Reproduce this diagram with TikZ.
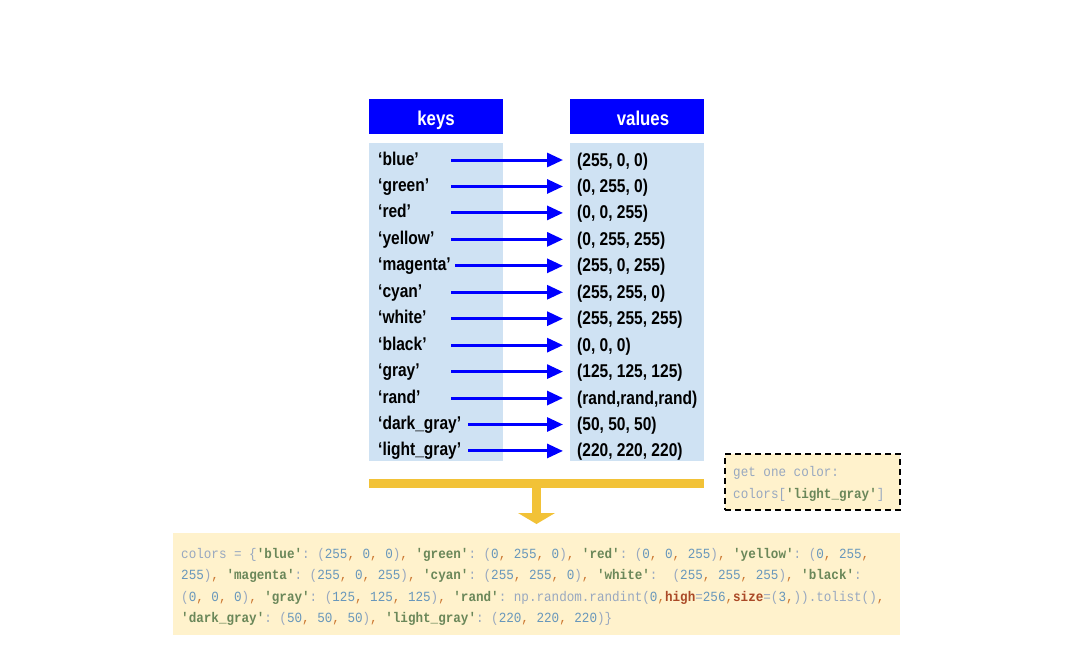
\documentclass[tikz,border=0pt]{standalone}
\usepackage{fontspec}
\setmainfont{Liberation Sans}
\setmonofont{Liberation Mono}[FakeStretch=0.9]
\newfontfamily\labfont{Liberation Sans}[FakeStretch=0.84]
\usetikzlibrary{arrows.meta}
\definecolor{hdr}{RGB}{0,0,255}
\definecolor{panel}{RGB}{207,226,243}
\definecolor{cream}{RGB}{255,242,204}
\definecolor{gold}{RGB}{242,194,55}
\definecolor{cdef}{RGB}{152,168,192}
\definecolor{cnum}{RGB}{104,151,187}
\definecolor{ccomma}{RGB}{204,120,50}
\definecolor{cstrc}{RGB}{106,135,89}
\definecolor{ckwc}{RGB}{170,73,38}
\newcommand\cnm[1]{\textcolor{cnum}{#1}}
\newcommand\ccm{\textcolor{ccomma}{,}}
\newcommand\cst[1]{\textcolor{cstrc}{\textbf{'#1'}}}
\newcommand\ckw[1]{\textcolor{ckwc}{\textbf{#1}}}
\newcommand\tup[3]{(\cnm{#1}\ccm\ \cnm{#2}\ccm\ \cnm{#3})}
\begin{document}
\begin{tikzpicture}[x=1pt,y=-1pt,
  hdrbox/.style={fill=hdr, inner sep=0pt, minimum width=134pt, minimum height=35pt},
  hdrtext/.style={text=white, inner sep=0pt, text height=13pt, text depth=0pt,
    font=\labfont\bfseries\fontsize{20}{22}\selectfont},
  keylab/.style={anchor=west, inner sep=0pt, text height=12pt, text depth=4pt,
    font=\labfont\bfseries\fontsize{18.5}{20}\selectfont},
  vallab/.style={keylab},
  arr/.style={draw=hdr, line width=3pt, shorten >=14pt, -{Triangle[length=16pt,width=14pt]}},
  codeline/.style={anchor=base west, inner sep=0pt, text=cdef,
    font=\ttfamily\fontsize{14}{21.7}\selectfont},
  codebg/.style={fill=cream, inner sep=0pt}]
\useasboundingbox (0,0) rectangle (1091,648);
% headers
\node[hdrbox] (hk) at (436,116.5) {};
\node[hdrbox] (hv) at (637,116.5) {};
\node[hdrtext] (hkt) at (436,118.5) {keys};
\node[hdrtext] (hvt) at (643,118.5) {values};
% panels
\fill[panel] (369,143) rectangle (503,461);
\fill[panel] (570,143) rectangle (704,461);
% rows
\foreach \i/\k/\v/\s in {
 1/blue/{(255, 0, 0)}/451,
 2/green/{(0, 255, 0)}/451,
 3/red/{(0, 0, 255)}/451,
 4/yellow/{(0, 255, 255)}/451,
 5/magenta/{(255, 0, 255)}/455,
 6/cyan/{(255, 255, 0)}/451,
 7/white/{(255, 255, 255)}/451,
 8/black/{(0, 0, 0)}/451,
 9/gray/{(125, 125, 125)}/451,
 10/rand/{(rand,rand,rand)}/451,
 11/dark\_gray/{(50, 50, 50)}/468,
 12/light\_gray/{(220, 220, 220)}/468}{
  \pgfmathsetmacro\yy{160+26.45*(\i-1)}
  \node[keylab] (k\i) at (378,\yy+1) {‘\k’};
  \node[vallab] (v\i) at (577,\yy+2) {\v};
  \coordinate (a\i) at (\s,\yy);
  \coordinate (b\i) at (577,\yy);
  \draw[arr] (a\i) -- (b\i);
}
% yellow bar and arrow
\fill[gold] (369,479) rectangle (704,488);
\fill[gold] (532,488) rectangle (541,513);
\fill[gold] (518,513) -- (555,513) -- (536.5,524) -- cycle;
% tip box
\node[draw=black, dashed, dash pattern=on 6pt off 4pt, line width=1.6pt, fill=cream,
  minimum width=175pt, minimum height=56pt, inner sep=0pt] (tipbox) at (812.5,482) {};
\node[codeline] (t1) at (733,476) {get one color:};
\node[codeline] (t2) at (733,498) {colors[\cst{light\_gray}]};
% code box
\node[codebg, minimum width=727pt, minimum height=102pt] (codebox) at (536.5,584) {};
\node[codeline] (c1) at (181,558) {colors = \{\cst{blue}: \tup{255}{0}{0}\ccm\ \cst{green}: \tup{0}{255}{0}\ccm\ \cst{red}: \tup{0}{0}{255}\ccm\ \cst{yellow}: (\cnm{0}\ccm\ \cnm{255}\ccm};
\node[codeline] (c2) at (181,579.5) {\cnm{255})\ccm\ \cst{magenta}: \tup{255}{0}{255}\ccm\ \cst{cyan}: \tup{255}{255}{0}\ccm\ \cst{white}:\ \ \tup{255}{255}{255}\ccm\ \cst{black}:};
\node[codeline] (c3) at (181,601) {\tup{0}{0}{0}\ccm\ \cst{gray}: \tup{125}{125}{125}\ccm\ \cst{rand}: np.random.randint(\cnm{0}\ccm\ckw{high}=\cnm{256}\ccm\ckw{size}=(\cnm{3}\ccm)).tolist()\ccm};
\node[codeline] (c4) at (181,622.5) {\cst{dark\_gray}: \tup{50}{50}{50}\ccm\ \cst{light\_gray}: \tup{220}{220}{220}\}};
\end{tikzpicture}
\end{document}
